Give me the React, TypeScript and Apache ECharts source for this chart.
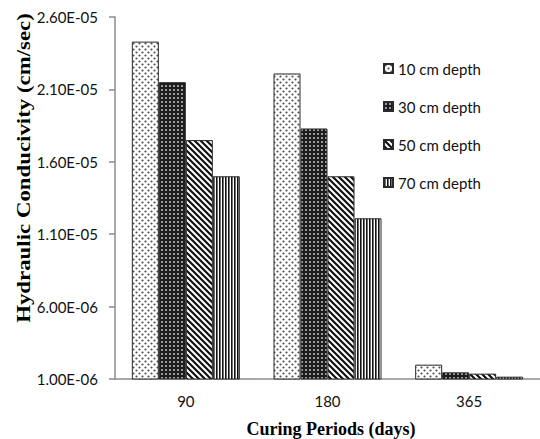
import React, { useEffect, useRef } from "react";
import * as echarts from "echarts";

// Curing periods (days) on the category axis
const categories = ["90", "180", "365"];

// Hydraulic conductivity (cm/sec) per sampling depth
const depth10 = [2.43e-5, 2.21e-5, 1.99e-6];
const depth30 = [2.15e-5, 1.83e-5, 1.46e-6];
const depth50 = [1.75e-5, 1.5e-5, 1.37e-6];
const depth70 = [1.5e-5, 1.21e-5, 1.16e-6];

const seriesNames = ["10 cm depth", "30 cm depth", "50 cm depth", "70 cm depth"];

// Value-axis tick positions
const yTicks = [1e-6, 6e-6, 1.1e-5, 1.6e-5, 2.1e-5, 2.6e-5];

const sciLabel = (v: number) => {
  const [m, e] = v.toExponential(2).split("e");
  const n = Number(e);
  return `${m}E${n < 0 ? "-" : "+"}${String(Math.abs(n)).padStart(2, "0")}`;
};

function tile(w: number, h: number, draw: (ctx: CanvasRenderingContext2D) => void) {
  const c = document.createElement("canvas");
  c.width = w;
  c.height = h;
  const ctx = c.getContext("2d") as CanvasRenderingContext2D;
  draw(ctx);
  return c;
}

function makePatterns() {
  // sparse gray dots on white, staggered
  const dots = tile(6, 6, (ctx) => {
    ctx.fillStyle = "#ffffff";
    ctx.fillRect(0, 0, 6, 6);
    ctx.fillStyle = "#505050";
    ctx.beginPath();
    ctx.arc(1.5, 1.5, 1.1, 0, Math.PI * 2);
    ctx.arc(4.5, 4.5, 1.1, 0, Math.PI * 2);
    ctx.fill();
  });
  // dense gray grid on black
  const grid = tile(4, 4, (ctx) => {
    ctx.fillStyle = "#1c1c1c";
    ctx.fillRect(0, 0, 4, 4);
    ctx.fillStyle = "#9a9a9a";
    ctx.fillRect(1, 1, 2, 2);
  });
  // diagonal stripes running down to the right
  const diag = tile(6, 6, (ctx) => {
    ctx.fillStyle = "#ffffff";
    ctx.fillRect(0, 0, 6, 6);
    ctx.strokeStyle = "#111111";
    ctx.lineWidth = 2.2;
    ctx.beginPath();
    ctx.moveTo(-1, -1);
    ctx.lineTo(7, 7);
    ctx.moveTo(-4, 2);
    ctx.lineTo(4, 10);
    ctx.moveTo(2, -4);
    ctx.lineTo(10, 4);
    ctx.stroke();
  });
  // vertical stripes
  const vert = tile(3, 3, (ctx) => {
    ctx.fillStyle = "#ffffff";
    ctx.fillRect(0, 0, 3, 3);
    ctx.fillStyle = "#111111";
    ctx.fillRect(0, 0, 1.6, 3);
  });
  return [dots, grid, diag, vert].map((image) => ({ image, repeat: "repeat" as const }));
}

export default function App() {
  const ref = useRef<HTMLDivElement>(null);

  useEffect(() => {
    if (!ref.current) return;
    const chart = echarts.init(ref.current, undefined, { renderer: "svg" });
    const patterns = makePatterns();
    const values = [depth10, depth30, depth50, depth70];
    const labelFont = "Lato";
    const axisColor = "#8c8c8c";

    chart.setOption({
      animation: false,
      backgroundColor: "#ffffff",
      grid: { left: 115, top: 17, width: 433, height: 362, containLabel: false },
      legend: {
        orient: "vertical",
        left: 383,
        top: 61,
        padding: 0,
        itemWidth: 9,
        itemHeight: 9,
        itemGap: 23,
        icon: "rect",
        data: seriesNames,
        textStyle: { fontFamily: labelFont, fontSize: 15, color: "#111111" },
      },
      xAxis: {
        type: "category",
        data: categories,
        axisLine: { show: true, lineStyle: { color: axisColor, width: 1.5 } },
        axisTick: { show: false },
        axisLabel: { margin: 14, fontFamily: labelFont, fontSize: 15, color: "#111111" },
        splitLine: { show: false },
      },
      yAxis: {
        type: "value",
        min: yTicks[0],
        max: yTicks[yTicks.length - 1],
        axisLine: { show: true, lineStyle: { color: axisColor, width: 1.5 } },
        axisTick: {
          show: true,
          length: 6,
          customValues: yTicks,
          lineStyle: { color: axisColor, width: 1.5 },
        },
        axisLabel: {
          margin: 17,
          customValues: yTicks,
          formatter: sciLabel,
          fontFamily: labelFont,
          fontSize: 15,
          color: "#111111",
        },
        splitLine: { show: false },
      },
      graphic: [
        {
          type: "text",
          x: 24,
          y: 168,
          rotation: Math.PI / 2,
          scaleX: 1.27,
          style: {
            text: "Hydraulic Conducivity (cm/sec)",
            font: 'bold 18px "Liberation Serif"',
            fill: "#000000",
            align: "center",
            verticalAlign: "middle",
          },
        },
        {
          type: "text",
          x: 331,
          y: 429,
          style: {
            text: "Curing Periods (days)",
            font: 'bold 18px "Liberation Serif"',
            fill: "#000000",
            align: "center",
            verticalAlign: "middle",
          },
        },
      ],
      series: seriesNames.map((name, i) => ({
        name,
        type: "bar",
        data: values[i],
        barWidth: 27,
        barGap: "0%",
        itemStyle: {
          color: patterns[i],
          borderColor: "#2a2a2a",
          borderWidth: 1,
        },
      })),
    });

    return () => chart.dispose();
  }, []);

  return (
    <div
      ref={ref}
      style={{ position: "fixed", left: 0, top: 0, width: 540, height: 439 }}
    />
  );
}
